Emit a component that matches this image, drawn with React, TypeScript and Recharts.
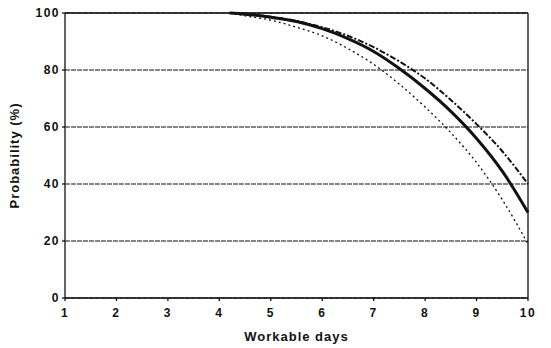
import { LineChart, Line, XAxis, YAxis, CartesianGrid, ReferenceLine } from 'recharts';

// ---------------------------------------------------------------------------
// Data
// ---------------------------------------------------------------------------
const DAYS = [4.2, 4.5, 5, 5.5, 6, 6.5, 7, 7.5, 8, 8.5, 9, 9.5, 10];
const SOLID = [100, 99.6, 98.5, 97, 94.5, 91, 86.5, 80.5, 73.5, 65.5, 56, 44.5, 30];
const DASH_DOT = [100, 99.7, 98.7, 97.2, 95, 92, 88, 83, 77, 69.5, 61, 51.5, 40];
const DOTTED = [100, 99, 97.5, 95, 92, 87.5, 82, 75, 67, 58, 47.5, 34.5, 19];
const X_TICKS = [1, 2, 3, 4, 5, 6, 7, 8, 9, 10];
const Y_TICKS = [0, 20, 40, 60, 80, 100];

const INK = '#111';
const FONT = '"Liberation Sans", Arial, sans-serif';
const TICK_STYLE = { fill: INK, fontSize: 12, fontFamily: FONT, fontWeight: 700, letterSpacing: 1.5 };
const LABEL_STYLE = { fill: INK, fontSize: 13, fontFamily: FONT, fontWeight: 700, letterSpacing: 1 };

const data = DAYS.map((d, i) => ({
  day: d,
  solid: SOLID[i],
  dashDot: DASH_DOT[i],
  dotted: DOTTED[i],
}));

export default function App() {
  return (
    <div style={{ position: 'absolute', top: 0, left: 0, width: 551, height: 348, background: '#fff' }}>
      <LineChart
        width={551}
        height={348}
        data={data}
        margin={{ top: 13, right: 23, bottom: 20, left: 0 }}
        style={{ fontFamily: FONT }}
      >
        <CartesianGrid vertical={false} stroke={INK} strokeDasharray="5 1" strokeWidth={1.2} />
        <XAxis
          dataKey="day"
          type="number"
          domain={[1, 10]}
          ticks={X_TICKS}
          interval={0}
          height={30}
          tickSize={3}
          tickMargin={7}
          stroke={INK}
          strokeWidth={1.3}
          tick={TICK_STYLE}
          label={{ value: 'Workable days', position: 'insideBottom', offset: -13, ...LABEL_STYLE }}
        />
        <YAxis
          type="number"
          domain={[0, 100]}
          ticks={Y_TICKS}
          interval={0}
          width={65}
          tickSize={3}
          tickMargin={2}
          stroke={INK}
          strokeWidth={1.3}
          tick={TICK_STYLE}
          label={{ value: 'Probability (%)', angle: -90, position: 'insideLeft', offset: 14, ...LABEL_STYLE, style: { textAnchor: 'middle' } }}
        />
        <ReferenceLine y={100} stroke={INK} strokeWidth={1.3} />
        <ReferenceLine x={10} stroke={INK} strokeWidth={1.3} />
        <Line
          dataKey="dotted"
          type="monotone"
          stroke={INK}
          strokeWidth={1.3}
          strokeDasharray="2 3"
          dot={false}
          isAnimationActive={false}
        />
        <Line
          dataKey="dashDot"
          type="monotone"
          stroke={INK}
          strokeWidth={2}
          strokeDasharray="6 2 2 2"
          dot={false}
          isAnimationActive={false}
        />
        <Line
          dataKey="solid"
          type="monotone"
          stroke={INK}
          strokeWidth={3}
          dot={false}
          isAnimationActive={false}
        />
      </LineChart>
    </div>
  );
}
